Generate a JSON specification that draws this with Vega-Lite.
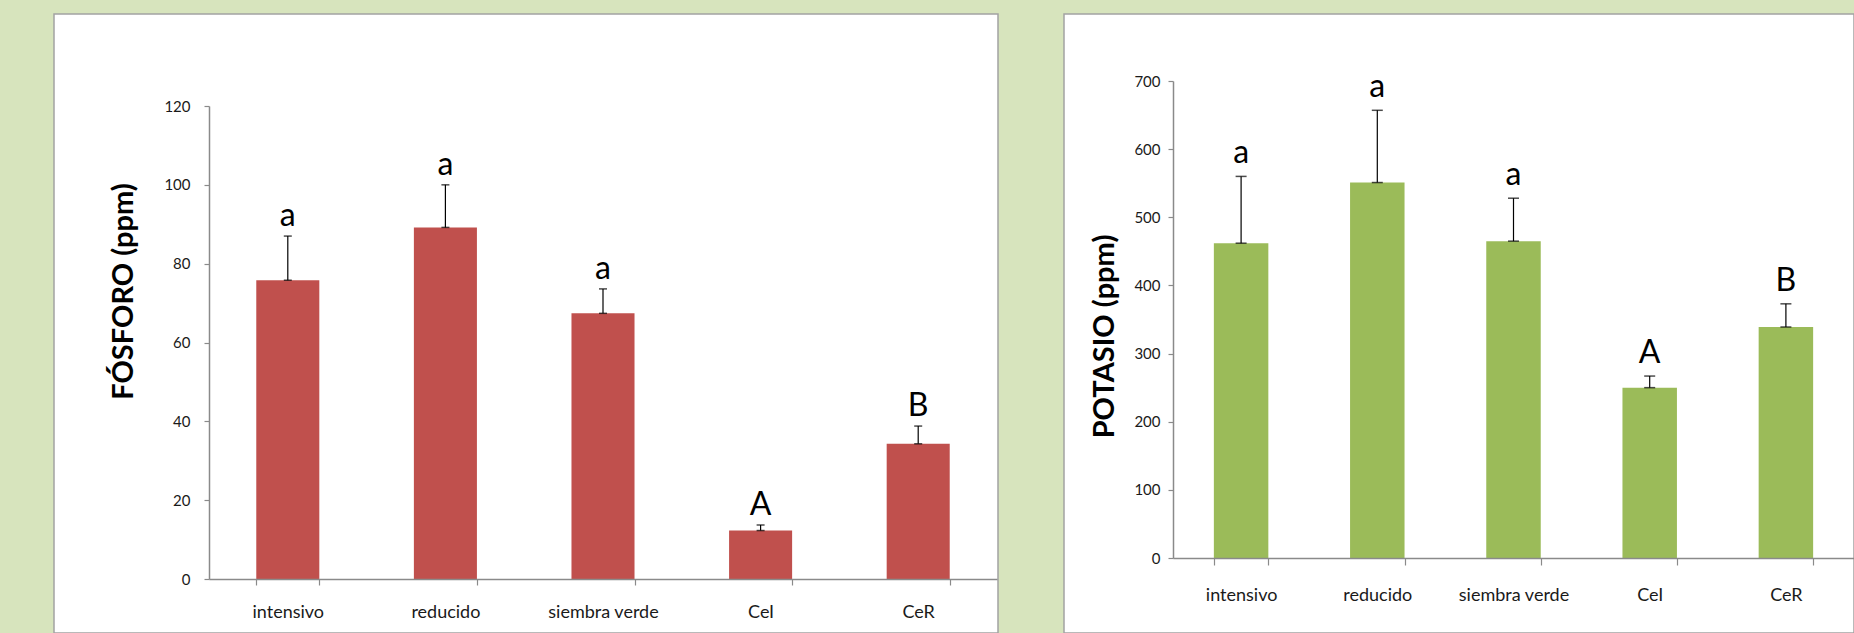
{
  "$schema": "https://vega.github.io/schema/vega-lite/v6.json",
  "background": "#D7E4BD",
  "padding": {"left": 53, "top": 13, "right": 0, "bottom": 0},
  "spacing": 64,
  "datasets": {
    "fosforo": [
      {"tratamiento": "intensivo", "valor": 75.8, "error_sup": 87.0, "letra": "a"},
      {"tratamiento": "reducido", "valor": 89.2, "error_sup": 100.0, "letra": "a"},
      {"tratamiento": "siembra verde", "valor": 67.4, "error_sup": 73.6, "letra": "a"},
      {"tratamiento": "CeI", "valor": 12.3, "error_sup": 13.7, "letra": "A"},
      {"tratamiento": "CeR", "valor": 34.3, "error_sup": 38.8, "letra": "B"}
    ],
    "potasio": [
      {"tratamiento": "intensivo", "valor": 462, "error_sup": 560, "letra": "a"},
      {"tratamiento": "reducido", "valor": 551, "error_sup": 657, "letra": "a"},
      {"tratamiento": "siembra verde", "valor": 465, "error_sup": 528, "letra": "a"},
      {"tratamiento": "CeI", "valor": 250, "error_sup": 267, "letra": "A"},
      {"tratamiento": "CeR", "valor": 339, "error_sup": 373, "letra": "B"}
    ]
  },
  "config": {
    "font": "Lato",
    "axis": {
      "grid": false,
      "domainColor": "#8a8a8a",
      "domainWidth": 1.5,
      "tickColor": "#8a8a8a",
      "tickWidth": 1.2,
      "labelColor": "#1a1a1a",
      "labelFont": "Lato",
      "titleColor": "#000000",
      "titleFont": "Lato"
    },
    "view": {"fill": "white", "stroke": "#a3a3a3", "strokeWidth": 1.5}
  },
  "hconcat": [
    {
      "width": 944,
      "height": 619,
      "data": {"name": "fosforo"},
      "encoding": {
        "x": {
          "field": "tratamiento",
          "type": "nominal",
          "sort": ["intensivo", "reducido", "siembra verde", "CeI", "CeR"],
          "scale": {"range": [155, 943], "paddingInner": 0.6, "paddingOuter": 0.3},
          "axis": {
            "title": null,
            "offset": -54,
            "tickBand": "extent",
            "tickSize": 6,
            "labelPadding": 18,
            "labelFontSize": 18,
            "labelAngle": 0,
            "zindex": 1
          }
        }
      },
      "layer": [
        {
          "mark": {"type": "bar", "color": "#C0504D"},
          "encoding": {
            "y": {
              "field": "valor",
              "type": "quantitative",
              "title": "FÓSFORO (ppm)",
              "scale": {"domain": [0, 120], "range": [565, 92], "nice": false},
              "axis": {
                "values": [0, 20, 40, 60, 80, 100, 120],
                "offset": -155,
                "tickSize": 5,
                "labelPadding": 14,
                "labelFontSize": 15,
                "titleFontSize": 29,
                "titleFontWeight": "bold",
                "titleX": -86,
                "titleY": 277,
                "titleAngle": -90,
                "titleAlign": "center",
                "titleBaseline": "middle"
              }
            }
          }
        },
        {
          "mark": {"type": "rule", "color": "black", "strokeWidth": 1.2},
          "encoding": {
            "y": {"field": "valor", "type": "quantitative", "title": "FÓSFORO (ppm)"},
            "y2": {"field": "error_sup"}
          }
        },
        {
          "mark": {"type": "tick", "color": "black", "size": 8, "thickness": 1.5},
          "encoding": {"y": {"field": "error_sup", "type": "quantitative", "title": "FÓSFORO (ppm)"}}
        },
        {
          "mark": {"type": "tick", "color": "black", "size": 8, "thickness": 1.5},
          "encoding": {"y": {"field": "valor", "type": "quantitative", "title": "FÓSFORO (ppm)"}}
        },
        {
          "mark": {"type": "text", "fontSize": 32, "baseline": "alphabetic", "dy": -10, "color": "black", "font": "Lato"},
          "encoding": {
            "y": {"field": "error_sup", "type": "quantitative", "title": "FÓSFORO (ppm)"},
            "text": {"field": "letra"}
          }
        }
      ]
    },
    {
      "width": 790,
      "height": 619,
      "data": {"name": "potasio"},
      "encoding": {
        "x": {
          "field": "tratamiento",
          "type": "nominal",
          "sort": ["intensivo", "reducido", "siembra verde", "CeI", "CeR"],
          "scale": {"range": [109, 790], "paddingInner": 0.6, "paddingOuter": 0.3},
          "axis": {
            "title": null,
            "offset": -75,
            "tickBand": "extent",
            "tickSize": 7,
            "labelPadding": 21,
            "labelFontSize": 18,
            "labelAngle": 0,
            "zindex": 1
          }
        }
      },
      "layer": [
        {
          "mark": {"type": "bar", "color": "#9BBB59"},
          "encoding": {
            "y": {
              "field": "valor",
              "type": "quantitative",
              "title": "POTASIO (ppm)",
              "scale": {"domain": [0, 700], "range": [544, 67], "nice": false},
              "axis": {
                "values": [0, 100, 200, 300, 400, 500, 600, 700],
                "offset": -109,
                "tickSize": 5,
                "labelPadding": 8,
                "labelFontSize": 15,
                "titleFontSize": 29,
                "titleFontWeight": "bold",
                "titleX": -69,
                "titleY": 322,
                "titleAngle": -90,
                "titleAlign": "center",
                "titleBaseline": "middle"
              }
            }
          }
        },
        {
          "mark": {"type": "rule", "color": "black", "strokeWidth": 1.2},
          "encoding": {
            "y": {"field": "valor", "type": "quantitative", "title": "POTASIO (ppm)"},
            "y2": {"field": "error_sup"}
          }
        },
        {
          "mark": {"type": "tick", "color": "black", "size": 11, "thickness": 1.5},
          "encoding": {"y": {"field": "error_sup", "type": "quantitative", "title": "POTASIO (ppm)"}}
        },
        {
          "mark": {"type": "tick", "color": "black", "size": 11, "thickness": 1.5},
          "encoding": {"y": {"field": "valor", "type": "quantitative", "title": "POTASIO (ppm)"}}
        },
        {
          "mark": {"type": "text", "fontSize": 32, "baseline": "alphabetic", "dy": -13, "color": "black", "font": "Lato"},
          "encoding": {
            "y": {"field": "error_sup", "type": "quantitative", "title": "POTASIO (ppm)"},
            "text": {"field": "letra"}
          }
        }
      ]
    }
  ]
}
